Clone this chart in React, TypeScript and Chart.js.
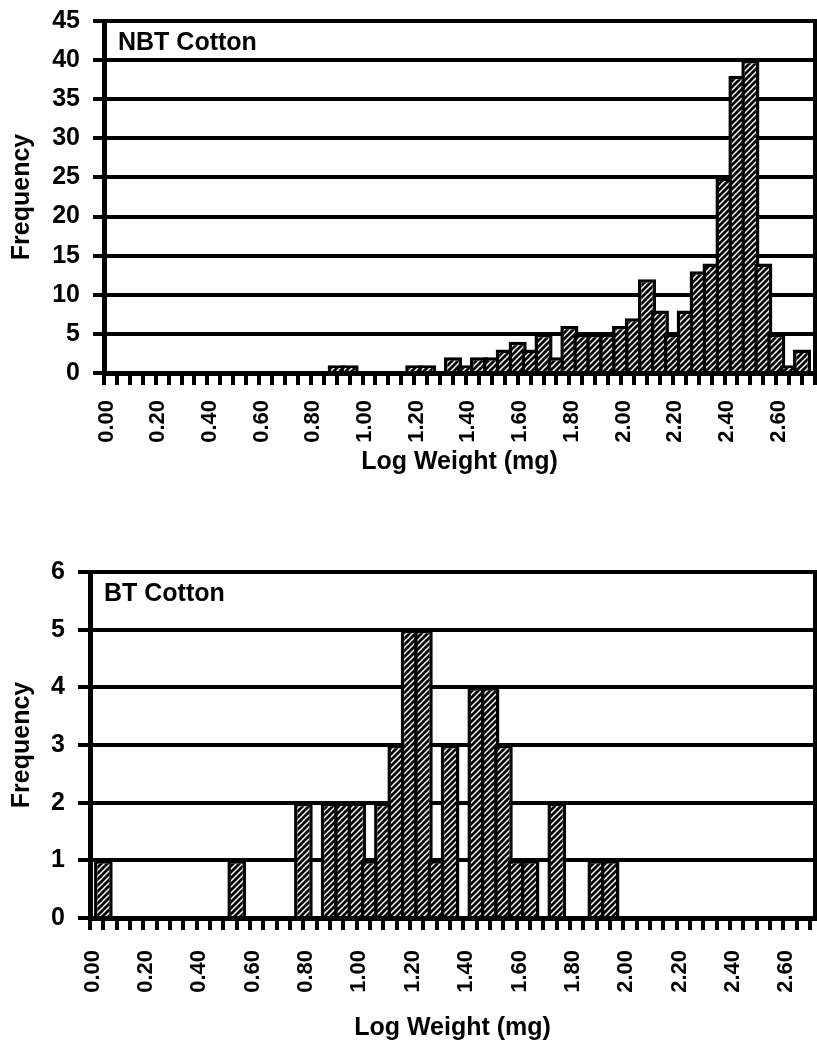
import React, { useEffect, useRef } from "react";
import { Chart, registerables } from "chart.js";

Chart.register(...registerables);

// ---- Data ----
const binStarts = [
  "0.00", "0.05", "0.10", "0.15", "0.20", "0.25", "0.30", "0.35", "0.40", "0.45",
  "0.50", "0.55", "0.60", "0.65", "0.70", "0.75", "0.80", "0.85", "0.90", "0.95",
  "1.00", "1.05", "1.10", "1.15", "1.20", "1.25", "1.30", "1.35", "1.40", "1.45",
  "1.50", "1.55", "1.60", "1.65", "1.70", "1.75", "1.80", "1.85", "1.90", "1.95",
  "2.00", "2.05", "2.10", "2.15", "2.20", "2.25", "2.30", "2.35", "2.40", "2.45",
  "2.50", "2.55", "2.60", "2.65",
];

const nbtCounts = [
  0, 0, 0, 0, 0, 0, 0, 0, 0, 0,
  0, 0, 0, 0, 0, 0, 0, 1, 1, 0,
  0, 0, 0, 1, 1, 0, 2, 1, 2, 2,
  3, 4, 3, 5, 2, 6, 5, 5, 5, 6,
  7, 12, 8, 5, 8, 13, 14, 25, 38, 40,
  14, 5, 1, 3,
];

const btCounts = [
  1, 0, 0, 0, 0, 0, 0, 0, 0, 0,
  1, 0, 0, 0, 0, 2, 0, 2, 2, 2,
  1, 2, 3, 5, 5, 1, 3, 0, 4, 4,
  3, 1, 1, 0, 2, 0, 0, 1, 1, 0,
  0, 0, 0, 0, 0, 0, 0, 0, 0, 0,
  0, 0, 0, 0,
];

const xTickLabels = [
  "0.00", "0.20", "0.40", "0.60", "0.80", "1.00", "1.20",
  "1.40", "1.60", "1.80", "2.00", "2.20", "2.40", "2.60",
];

const BIN_WIDTH = 0.05;
const LABEL_EVERY = 4;
const FONT = "'Liberation Sans', Arial, Helvetica, sans-serif";

type PanelProps = {
  label: string;
  counts: number[];
  yMax: number;
  yStep: number;
  xMax: number;
  top: number;
  height: number;
  padTop: number;
  yAxisWidth: number;
  yTickLen: number;
  xAxisHeight: number;
  xLabelPad: number;
  titlePadBottom: number;
};

function makeHatch(ctx: CanvasRenderingContext2D) {
  const c = document.createElement("canvas");
  c.width = 6;
  c.height = 6;
  const g = c.getContext("2d")!;
  g.fillStyle = "#000";
  g.fillRect(0, 0, 6, 6);
  g.strokeStyle = "#fff";
  g.lineWidth = 1.5;
  g.beginPath();
  g.moveTo(0, 6);
  g.lineTo(6, 0);
  g.moveTo(-1, 1);
  g.lineTo(1, -1);
  g.moveTo(5, 7);
  g.lineTo(7, 5);
  g.stroke();
  return ctx.createPattern(c, "repeat");
}

function Panel(p: PanelProps) {
  const ref = useRef<HTMLCanvasElement | null>(null);

  useEffect(() => {
    const canvas = ref.current!;
    const ctx = canvas.getContext("2d")!;
    const hatch = makeHatch(ctx);

    const panelPlugin = {
      id: "panelDecor",
      afterDraw(chart: any) {
        const { ctx: c, chartArea } = chart;
        c.save();
        c.fillStyle = "#000";
        c.font = `bold 25px ${FONT}`;
        c.textBaseline = "alphabetic";
        c.textAlign = "left";
        c.fillText(p.label, chartArea.left + 14, chartArea.top + 29);
        c.strokeStyle = "#000";
        c.lineWidth = 4;
        c.beginPath();
        c.moveTo(chartArea.right, chartArea.top - 2);
        c.lineTo(chartArea.right, chartArea.bottom);
        c.stroke();
        c.restore();
      },
    };

    const chart = new Chart(canvas, {
      type: "bar",
      data: {
        datasets: [
          {
            data: binStarts.map((b, i) => ({
              x: parseFloat(b) + BIN_WIDTH / 2,
              y: p.counts[i],
            })),
            backgroundColor: hatch as any,
            borderColor: "#000",
            borderWidth: 3.5,
            borderSkipped: "start",
            barPercentage: 1.4,
            categoryPercentage: 1,
          } as any,
        ],
      },
      options: {
        responsive: false,
        maintainAspectRatio: false,
        animation: false,
        layout: { padding: { top: p.padTop, right: 2, left: 0, bottom: 0 } },
        plugins: {
          legend: { display: false },
          tooltip: { enabled: false },
        },
        scales: {
          x: {
            type: "linear",
            bounds: "data",
            min: 0,
            max: p.xMax,
            z: 1,
            grid: {
              drawOnChartArea: false,
              drawTicks: true,
              tickLength: 12,
              lineWidth: 4,
              color: "#000",
            },
            border: { display: true, width: 5, color: "#000" },
            ticks: {
              stepSize: BIN_WIDTH,
              autoSkip: false,
              includeBounds: false,
              maxRotation: 90,
              minRotation: 90,
              labelOffset: -4,
              padding: p.xLabelPad,
              color: "#000",
              font: { family: FONT, weight: "bold", size: 22 },
              callback: (v: any) => {
                const k = Math.round(Number(v) / BIN_WIDTH);
                if (k % LABEL_EVERY !== 0) return "";
                return xTickLabels[k / LABEL_EVERY] ?? "";
              },
            },
            title: {
              display: true,
              text: "Log Weight (mg)",
              color: "#000",
              font: { family: FONT, weight: "bold", size: 25 },
              padding: { top: 0, bottom: p.titlePadBottom },
            },
            afterFit: (s: any) => {
              s.height = p.xAxisHeight;
              s.paddingLeft = 0;
              s.paddingRight = 0;
            },
          } as any,
          y: {
            min: 0,
            max: p.yMax,
            grid: {
              lineWidth: 4,
              color: "#000",
              tickLength: p.yTickLen,
            },
            border: { display: true, width: 5, color: "#000" },
            ticks: {
              stepSize: p.yStep,
              padding: 13,
              color: "#000",
              font: { family: FONT, weight: "bold", size: 25 },
            },
            title: {
              display: true,
              text: "Frequency",
              color: "#000",
              font: { family: FONT, weight: "bold", size: 25 },
              padding: { top: 7, bottom: 0 },
            },
            afterFit: (s: any) => {
              s.width = p.yAxisWidth;
              s.paddingTop = 0;
              s.paddingBottom = 0;
            },
          } as any,
        },
      },
      plugins: [panelPlugin],
    });

    return () => chart.destroy();
  }, []);

  return (
    <canvas
      ref={ref}
      width={817}
      height={p.height}
      style={{
        position: "absolute",
        left: 0,
        top: p.top,
        width: 817,
        height: p.height,
        display: "block",
      }}
    />
  );
}

export default function App() {
  return (
    <div
      style={{
        position: "absolute",
        left: 0,
        top: 0,
        width: 817,
        height: 1054,
        background: "#fff",
        overflow: "hidden",
      }}
    >
      <Panel
        label="NBT Cotton"
        counts={nbtCounts}
        yMax={45}
        yStep={5}
        xMax={2.7}
        top={0}
        height={500}
        padTop={21}
        yAxisWidth={104}
        yTickLen={11}
        xAxisHeight={127}
        xLabelPad={15}
        titlePadBottom={23}
      />
      <Panel
        label="BT Cotton"
        counts={btCounts}
        yMax={6}
        yStep={1}
        xMax={2.668}
        top={500}
        height={554}
        padTop={72}
        yAxisWidth={90}
        yTickLen={12}
        xAxisHeight={136}
        xLabelPad={20}
        titlePadBottom={11}
      />
    </div>
  );
}
